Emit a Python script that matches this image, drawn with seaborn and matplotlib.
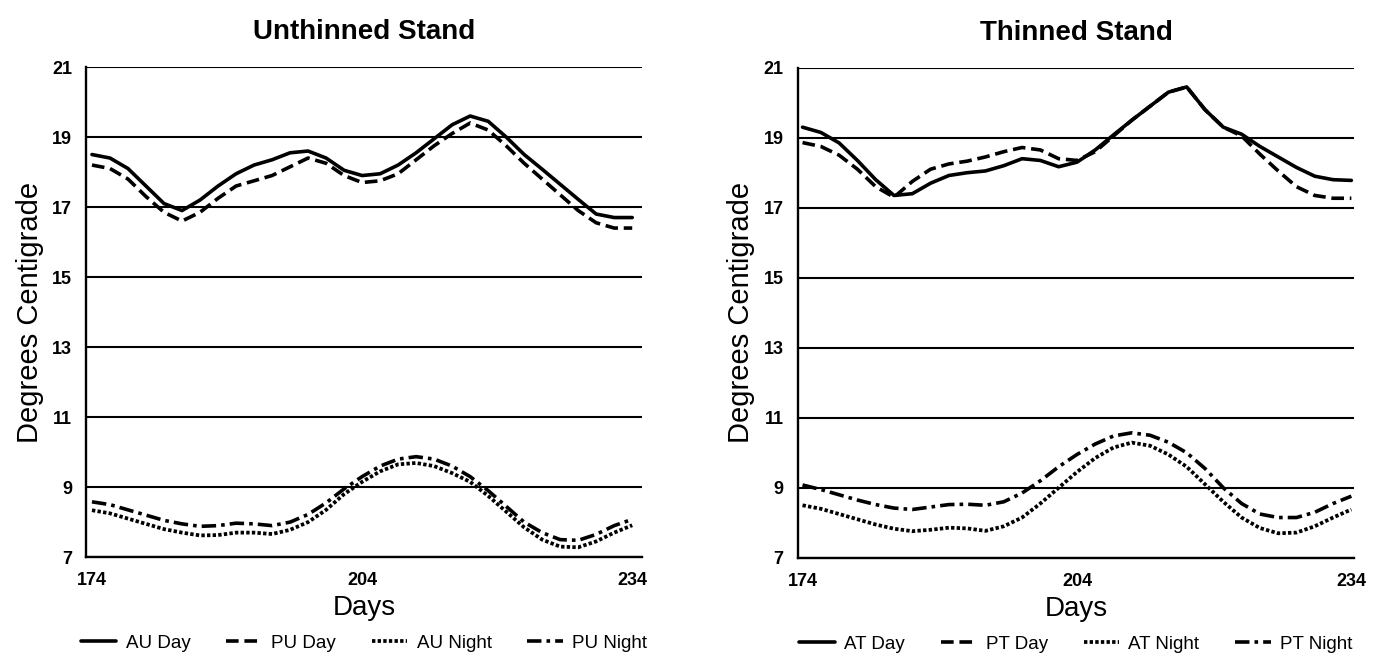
import matplotlib.pyplot as plt
import matplotlib.ticker as mticker
import seaborn as sns
import pandas as pd

# ============================
# Dados – dias 174 a 234, a cada 2 dias
# ============================
dias = list(range(174, 235, 2))

# Povoamento não desbastado
au_dia = [18.5, 18.4, 18.1, 17.6, 17.1, 16.9, 17.2, 17.6, 17.95, 18.2, 18.35, 18.55, 18.6, 18.4, 18.05, 17.9,
          17.95, 18.2, 18.55, 18.95, 19.35, 19.6, 19.45, 19.0, 18.5, 18.08, 17.65, 17.22, 16.8, 16.7, 16.7]
pu_dia = [18.2, 18.1, 17.8, 17.3, 16.85, 16.6, 16.85, 17.25, 17.6, 17.75, 17.9, 18.15, 18.4, 18.25, 17.9, 17.7,
          17.75, 17.95, 18.35, 18.75, 19.1, 19.4, 19.2, 18.75, 18.25, 17.8, 17.35, 16.9, 16.55, 16.4, 16.4]
au_noite = [8.34, 8.25, 8.1, 7.95, 7.8, 7.7, 7.62, 7.63, 7.7, 7.7, 7.66, 7.78, 8.0, 8.35, 8.8, 9.15,
            9.45, 9.65, 9.69, 9.6, 9.4, 9.15, 8.75, 8.3, 7.85, 7.5, 7.3, 7.28, 7.45, 7.7, 7.91]
pu_noite = [8.58, 8.5, 8.35, 8.2, 8.05, 7.95, 7.88, 7.9, 7.97, 7.95, 7.9, 8.0, 8.22, 8.55, 8.95, 9.3,
            9.6, 9.8, 9.87, 9.8, 9.6, 9.3, 8.9, 8.45, 8.0, 7.7, 7.5, 7.48, 7.65, 7.9, 8.08]

# Povoamento desbastado
at_dia = [19.3, 19.15, 18.85, 18.35, 17.8, 17.35, 17.4, 17.7, 17.92, 18.0, 18.05, 18.2, 18.4, 18.35, 18.17, 18.3,
          18.65, 19.08, 19.5, 19.9, 20.3, 20.45, 19.8, 19.3, 19.1, 18.75, 18.45, 18.15, 17.9, 17.8, 17.78]
pt_dia = [18.86, 18.75, 18.5, 18.1, 17.6, 17.3, 17.75, 18.1, 18.25, 18.33, 18.45, 18.6, 18.72, 18.65, 18.4, 18.35,
          18.6, 19.05, 19.5, 19.9, 20.3, 20.45, 19.8, 19.3, 19.05, 18.53, 18.05, 17.6, 17.35, 17.27, 17.27]
at_noite = [8.5, 8.4, 8.25, 8.1, 7.95, 7.83, 7.76, 7.8, 7.86, 7.84, 7.77, 7.9, 8.15, 8.55, 9.0, 9.45,
            9.85, 10.15, 10.29, 10.2, 9.95, 9.6, 9.1, 8.6, 8.15, 7.85, 7.7, 7.72, 7.9, 8.15, 8.38]
pt_noite = [9.08, 8.95, 8.8, 8.65, 8.52, 8.42, 8.38, 8.45, 8.52, 8.53, 8.5, 8.6, 8.85, 9.2, 9.6, 9.95,
            10.25, 10.48, 10.57, 10.5, 10.3, 10.0, 9.55, 9.0, 8.55, 8.25, 8.15, 8.15, 8.3, 8.55, 8.76]

titulos = ['Unthinned Stand', 'Thinned Stand']
rotulos = [['AU Day', 'PU Day', 'AU Night', 'PU Night'],
           ['AT Day', 'PT Day', 'AT Night', 'PT Night']]
series = [[au_dia, pu_dia, au_noite, pu_noite],
          [at_dia, pt_dia, at_noite, pt_noite]]

# estilos de linha: contínua, tracejada, pontilhada, traço-ponto
estilos = ['-', (0, (3.5, 1.6)), (0, (0.9, 0.6)), (0, (4, 1.4, 1, 1.4))]
larguras = [2.6, 2.6, 2.7, 2.6]

sns.set_style('white')
plt.rcParams['font.family'] = ['Liberation Sans', 'DejaVu Sans']
plt.rcParams['text.color'] = 'black'
plt.rcParams['axes.labelcolor'] = 'black'
plt.rcParams['xtick.color'] = 'black'
plt.rcParams['ytick.color'] = 'black'

fig = plt.figure(figsize=(13.75, 6.57), dpi=100)
posicoes = [[0.0625, 0.152, 0.4045, 0.746], [0.58, 0.151, 0.405, 0.746]]
limites_x = [(173.33, 235.1), (173.45, 234.33)]

for i in range(2):
    ax = fig.add_axes(posicoes[i])
    for serie, rotulo, ls, lw in zip(series[i], rotulos[i], estilos, larguras):
        df = pd.DataFrame({'Dia': dias, 'Temp': serie})
        sns.lineplot(data=df, x='Dia', y='Temp', ax=ax, color='black', linestyle=ls,
                     linewidth=lw, label=rotulo)

    ax.set_xlim(*limites_x[i])
    ax.set_ylim(7, 21)
    ax.set_yticks(range(7, 22, 2))
    ax.set_xticks([174, 204, 234])
    ax.xaxis.set_minor_locator(mticker.MultipleLocator(1))
    ax.grid(axis='y', color='black', linewidth=1.5)
    ax.set_axisbelow(True)
    ax.tick_params(axis='y', direction='out', length=7, width=1.5, labelsize=13, pad=3)
    ax.tick_params(axis='x', which='major', direction='out', length=10, width=1.6, labelsize=13, pad=1)
    ax.tick_params(axis='x', which='minor', direction='out', length=6, width=1.4)
    for lab in ax.get_xticklabels() + ax.get_yticklabels():
        lab.set_fontweight('bold')
    for lado in ['top', 'right']:
        ax.spines[lado].set_visible(False)
    for lado in ['left', 'bottom']:
        ax.spines[lado].set_color('black')
        ax.spines[lado].set_linewidth(1.7)

    ax.set_title(titulos[i], fontsize=20, fontweight='bold', pad=20)
    ax.set_xlabel('Days', fontsize=20, labelpad=4)
    ax.set_ylabel('Degrees Centigrade', fontsize=21, labelpad=6)
    ax.legend(loc='center', bbox_to_anchor=(0.5, -0.176), ncol=4, frameon=False,
              fontsize=13.5, handlelength=1.9, columnspacing=1.9, handletextpad=0.5)

plt.savefig('out.png', dpi=100)
plt.close()
